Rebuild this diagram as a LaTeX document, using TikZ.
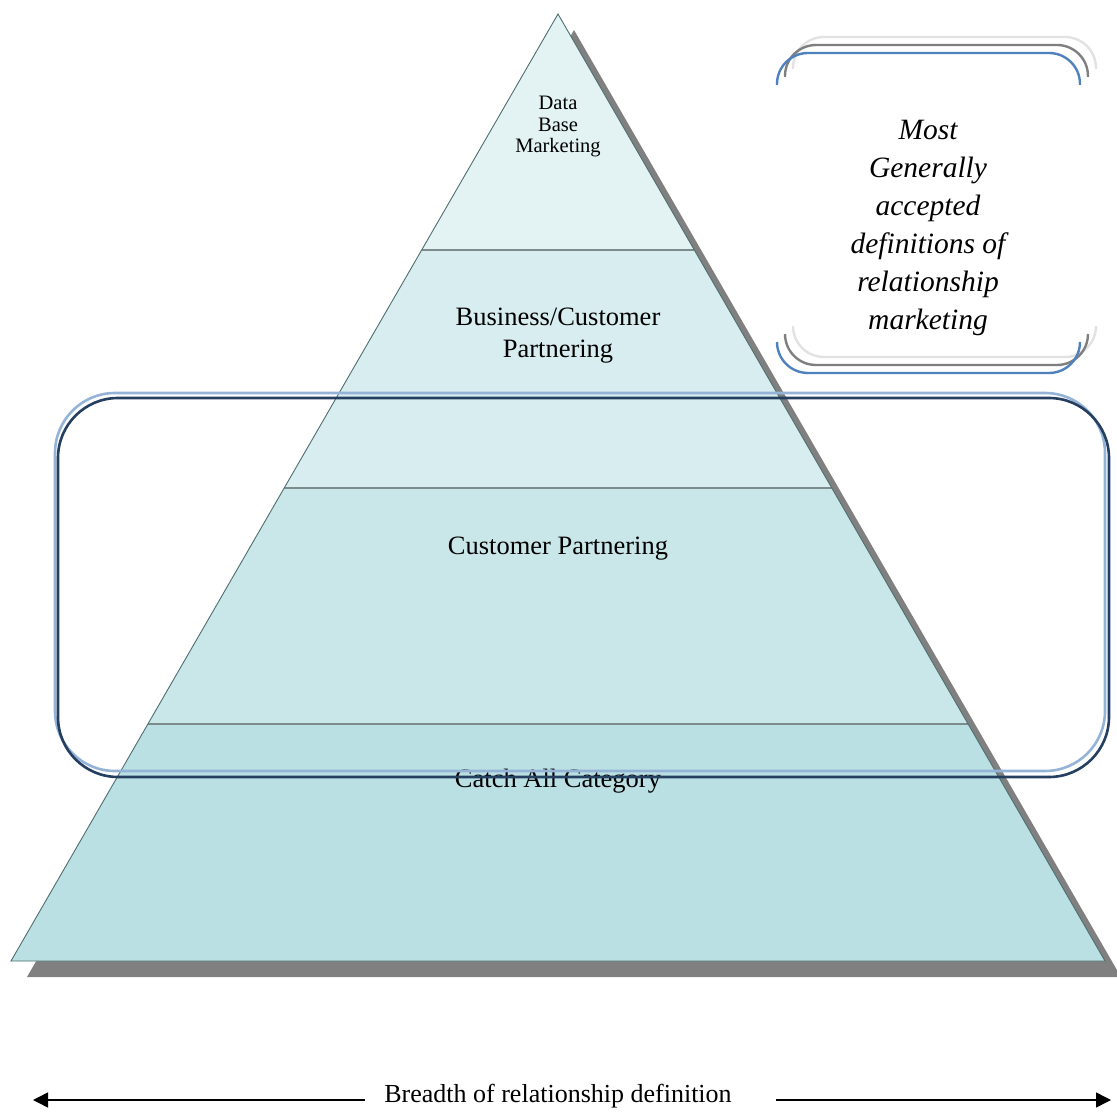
\documentclass[tikz,border=0pt]{standalone}
\usepackage{fontspec}
\setmainfont{Liberation Serif}
\usetikzlibrary{arrows.meta}
\definecolor{layA}{HTML}{E3F3F4}
\definecolor{layB}{HTML}{D8EDEF}
\definecolor{layC}{HTML}{C9E6E8}
\definecolor{layD}{HTML}{BAE0E3}
\definecolor{divgray}{HTML}{7C8B8C}
\definecolor{edgecol}{HTML}{4F6E70}
\definecolor{shadowgray}{HTML}{808080}
\definecolor{lightblue}{HTML}{95B3D7}
\definecolor{navy}{HTML}{243F60}
\definecolor{brblue}{HTML}{4F81BD}
\definecolor{brgray}{HTML}{7F7F7F}
\definecolor{brlight}{HTML}{E2E2E2}
\begin{document}
\begin{tikzpicture}[x=1pt,y=-1pt,
  divider/.style={draw=divgray,line width=2.6pt},
  lbl/.style={inner sep=0pt,align=center,text=black},
  bigtext/.style={lbl,font=\fontsize{26.5}{32}\selectfont},
  bracketline/.style={line width=2.4pt,rounded corners=31pt},
  frameline/.style={line width=2.6pt,rounded corners=60pt},
  arr/.style={line width=1.5pt,-{Triangle[length=15pt,width=15pt]}}]
\useasboundingbox (0,0) rectangle (1117,1115);
% key points of the pyramid
\coordinate (apex) at (558,14);
\coordinate (bl) at (11,961);
\coordinate (br) at (1105,961);
\coordinate (l1) at (421.7,250); \coordinate (r1) at (694.3,250);
\coordinate (l2) at (284.2,488); \coordinate (r2) at (831.8,488);
\coordinate (l3) at (147.9,724); \coordinate (r3) at (968.1,724);
% shadow
\fill[shadowgray] ([shift={(16,16)}]apex) -- ([shift={(16,16)}]bl) -- ([shift={(16,16)}]br) -- cycle;
% layers
\fill[layA] (apex) -- (l1) -- (r1) -- cycle;
\fill[layB] (l1) -- (l2) -- (r2) -- (r1) -- cycle;
\fill[layC] (l2) -- (l3) -- (r3) -- (r2) -- cycle;
\fill[layD] (l3) -- (bl) -- (br) -- (r3) -- cycle;
\draw[divider] (l1) -- (r1);
\draw[divider] (l2) -- (r2);
\draw[divider] (l3) -- (r3);
\draw[draw=edgecol,line width=0.9pt,line join=miter] (apex) -- (bl) -- (br) -- cycle;
% texts
\node[lbl,font=\fontsize{20.5}{21.5}\selectfont] (dbm) at (558,127) {Data\\Base\\Marketing};
\node[bigtext] (bcp) at (558,336) {Business/Customer\\Partnering};
\node[bigtext] (cp) at (558,549) {Customer Partnering};
\node[bigtext] (cac) at (558,781) {Catch All Category};
\node[lbl,font=\fontsize{29.5}{38}\selectfont\itshape] (def) at (928,228) {Most\\Generally\\accepted\\definitions of\\relationship\\marketing};
% frame
\draw[lightblue,frameline] (55,393) rectangle (1105,771);
\draw[navy,frameline] (58,398) rectangle (1109,777);
% brackets
\draw[brlight,bracketline] (793,69) -- (793,37) -- (1096,37) -- (1096,69);
\draw[brlight,bracketline] (793,326) -- (793,357) -- (1096,357) -- (1096,326);
\draw[brgray,bracketline] (785,77) -- (785,45) -- (1088,45) -- (1088,77);
\draw[brgray,bracketline] (785,334) -- (785,365) -- (1088,365) -- (1088,334);
\draw[brblue,bracketline] (777,85) -- (777,53) -- (1080,53) -- (1080,85);
\draw[brblue,bracketline] (777,342) -- (777,373) -- (1080,373) -- (1080,342);
% breadth arrows
\node[lbl,font=\fontsize{26}{31}\selectfont] (breadth) at (558,1096) {Breadth of relationship definition};
\coordinate (la) at (365,1100);
\coordinate (lt) at (33,1100);
\coordinate (ra) at (776,1100);
\coordinate (rt) at (1111,1100);
\draw[arr] (la) -- (lt);
\draw[arr] (ra) -- (rt);
\end{tikzpicture}
\end{document}
